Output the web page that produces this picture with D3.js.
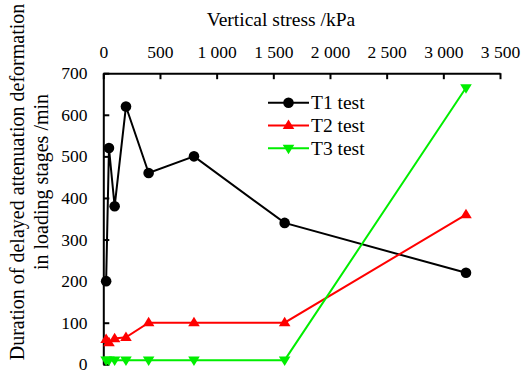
<!DOCTYPE html>
<html>
<head>
<meta charset="utf-8">
<script src="https://cdn.jsdelivr.net/npm/d3@7"></script>
<style>
  html, body { margin: 0; padding: 0; background: #fff; }
  svg { display: block; }
</style>
</head>
<body>
<svg id="chart" width="526" height="374"></svg>
<script>
// Vertical stress levels (kPa) of the loading stages
const stress = [25, 50, 100, 200, 400, 800, 1600, 3200];
// Duration of delayed attenuation deformation (min) for each test
const t1 = [200, 520, 380, 620, 460, 500, 340, 220];
const t2 = [60, 52, 62, 65, 100, 100, 100, 360];
const t3 = [10, 10, 10, 10, 10, 10, 10, 665];
const seriesNames = ["T1 test", "T2 test", "T3 test"];
const xTicks = [0, 500, 1000, 1500, 2000, 2500, 3000, 3500];
const yTicks = [0, 100, 200, 300, 400, 500, 600, 700];

const FONT = "'Liberation Serif'";
const svg = d3.select("#chart");
const plotLeft = 103.3, plotRight = 500, plotTop = 73.2, plotBottom = 364.3;

const x = d3.scaleLinear().domain([0, 3500]).range([plotLeft, plotRight]);
const y = d3.scaleLinear().domain([0, 700]).range([plotBottom, plotTop]);

// thousands separated by a space, e.g. "1 500"
const fmtX = d => d >= 1000 ? Math.floor(d / 1000) + "\u00a0" + String(d % 1000).padStart(3, "0") : String(d);

// Top axis (stress), ticks pointing into the plot
const xAxis = d3.axisTop(x).tickValues(xTicks).tickSize(-6).tickSizeOuter(0).tickFormat(fmtX).tickPadding(15.5);
const gx = svg.append("g").attr("transform", `translate(0,${plotTop})`).call(xAxis);
gx.attr("font-family", null).attr("font-size", null);
gx.select(".domain").attr("stroke", "#000").attr("stroke-width", 2);
gx.selectAll(".tick line").attr("stroke", "#000").attr("stroke-width", 2);
gx.selectAll(".tick text").attr("fill", "#000")
  .style("font-family", FONT).style("font-size", "17.5px");

// Left axis (duration), ticks pointing into the plot
const yAxis = d3.axisLeft(y).tickValues(yTicks).tickSize(-6).tickSizeOuter(0).tickPadding(15.8);
const gy = svg.append("g").attr("transform", `translate(${plotLeft},0)`).call(yAxis);
gy.attr("font-family", null).attr("font-size", null);
gy.select(".domain").attr("stroke", "#000").attr("stroke-width", 2);
gy.selectAll(".tick line").attr("stroke", "#000").attr("stroke-width", 2);
gy.selectAll(".tick text").attr("fill", "#000")
  .style("font-family", FONT).style("font-size", "17.5px");

// Axis titles
svg.append("text")
  .attr("x", 281).attr("y", 26)
  .attr("text-anchor", "middle")
  .style("font-family", FONT).style("font-size", "19.5px")
  .text("Vertical stress /kPa");

const yt = svg.append("text")
  .attr("transform", "translate(0,182) rotate(-90)")
  .attr("text-anchor", "middle")
  .style("font-family", FONT).style("font-size", "20px");
yt.append("tspan").attr("x", 0).attr("y", 23.5).text("Duration of delayed attenuation deformation");
yt.append("tspan").attr("x", 0).attr("y", 48).text("in loading stages /min");

const series = [
  { name: seriesNames[0], values: t1, color: "#000000", marker: "circle" },
  { name: seriesNames[1], values: t2, color: "#ff0000", marker: "up" },
  { name: seriesNames[2], values: t3, color: "#00ee00", marker: "down" }
];

const line = d3.line().x(d => x(d[0])).y(d => y(d[1]));

function drawMarker(g, type, color, cx, cy) {
  if (type === "circle") {
    g.append("circle").attr("cx", cx).attr("cy", cy).attr("r", 5.3).attr("fill", color);
  } else {
    const s = type === "up" ? 1 : -1;
    const h = 9.5, w = 5.8;
    g.append("path")
      .attr("d", `M${cx},${cy - s * h * 0.62}L${cx + w},${cy + s * h * 0.38}L${cx - w},${cy + s * h * 0.38}Z`)
      .attr("fill", color);
  }
}

const plot = svg.append("g");
series.forEach(s => {
  const pts = stress.map((v, i) => [v, s.values[i]]);
  plot.append("path").datum(pts)
    .attr("d", line).attr("fill", "none")
    .attr("stroke", s.color).attr("stroke-width", 2);
  pts.forEach(p => drawMarker(plot, s.marker, s.color, x(p[0]), y(p[1])));
});

// Legend
const legend = svg.append("g");
series.forEach((s, i) => {
  const ly = 102.7 + i * 22.8;
  legend.append("line").attr("x1", 268).attr("x2", 309).attr("y1", ly).attr("y2", ly)
    .attr("stroke", s.color).attr("stroke-width", 2);
  drawMarker(legend, s.marker, s.color, 288.5, ly);
  legend.append("text").attr("x", 311).attr("y", ly + 6.5)
    .style("font-family", FONT).style("font-size", "19.5px").text(s.name);
});
</script>
</body>
</html>
